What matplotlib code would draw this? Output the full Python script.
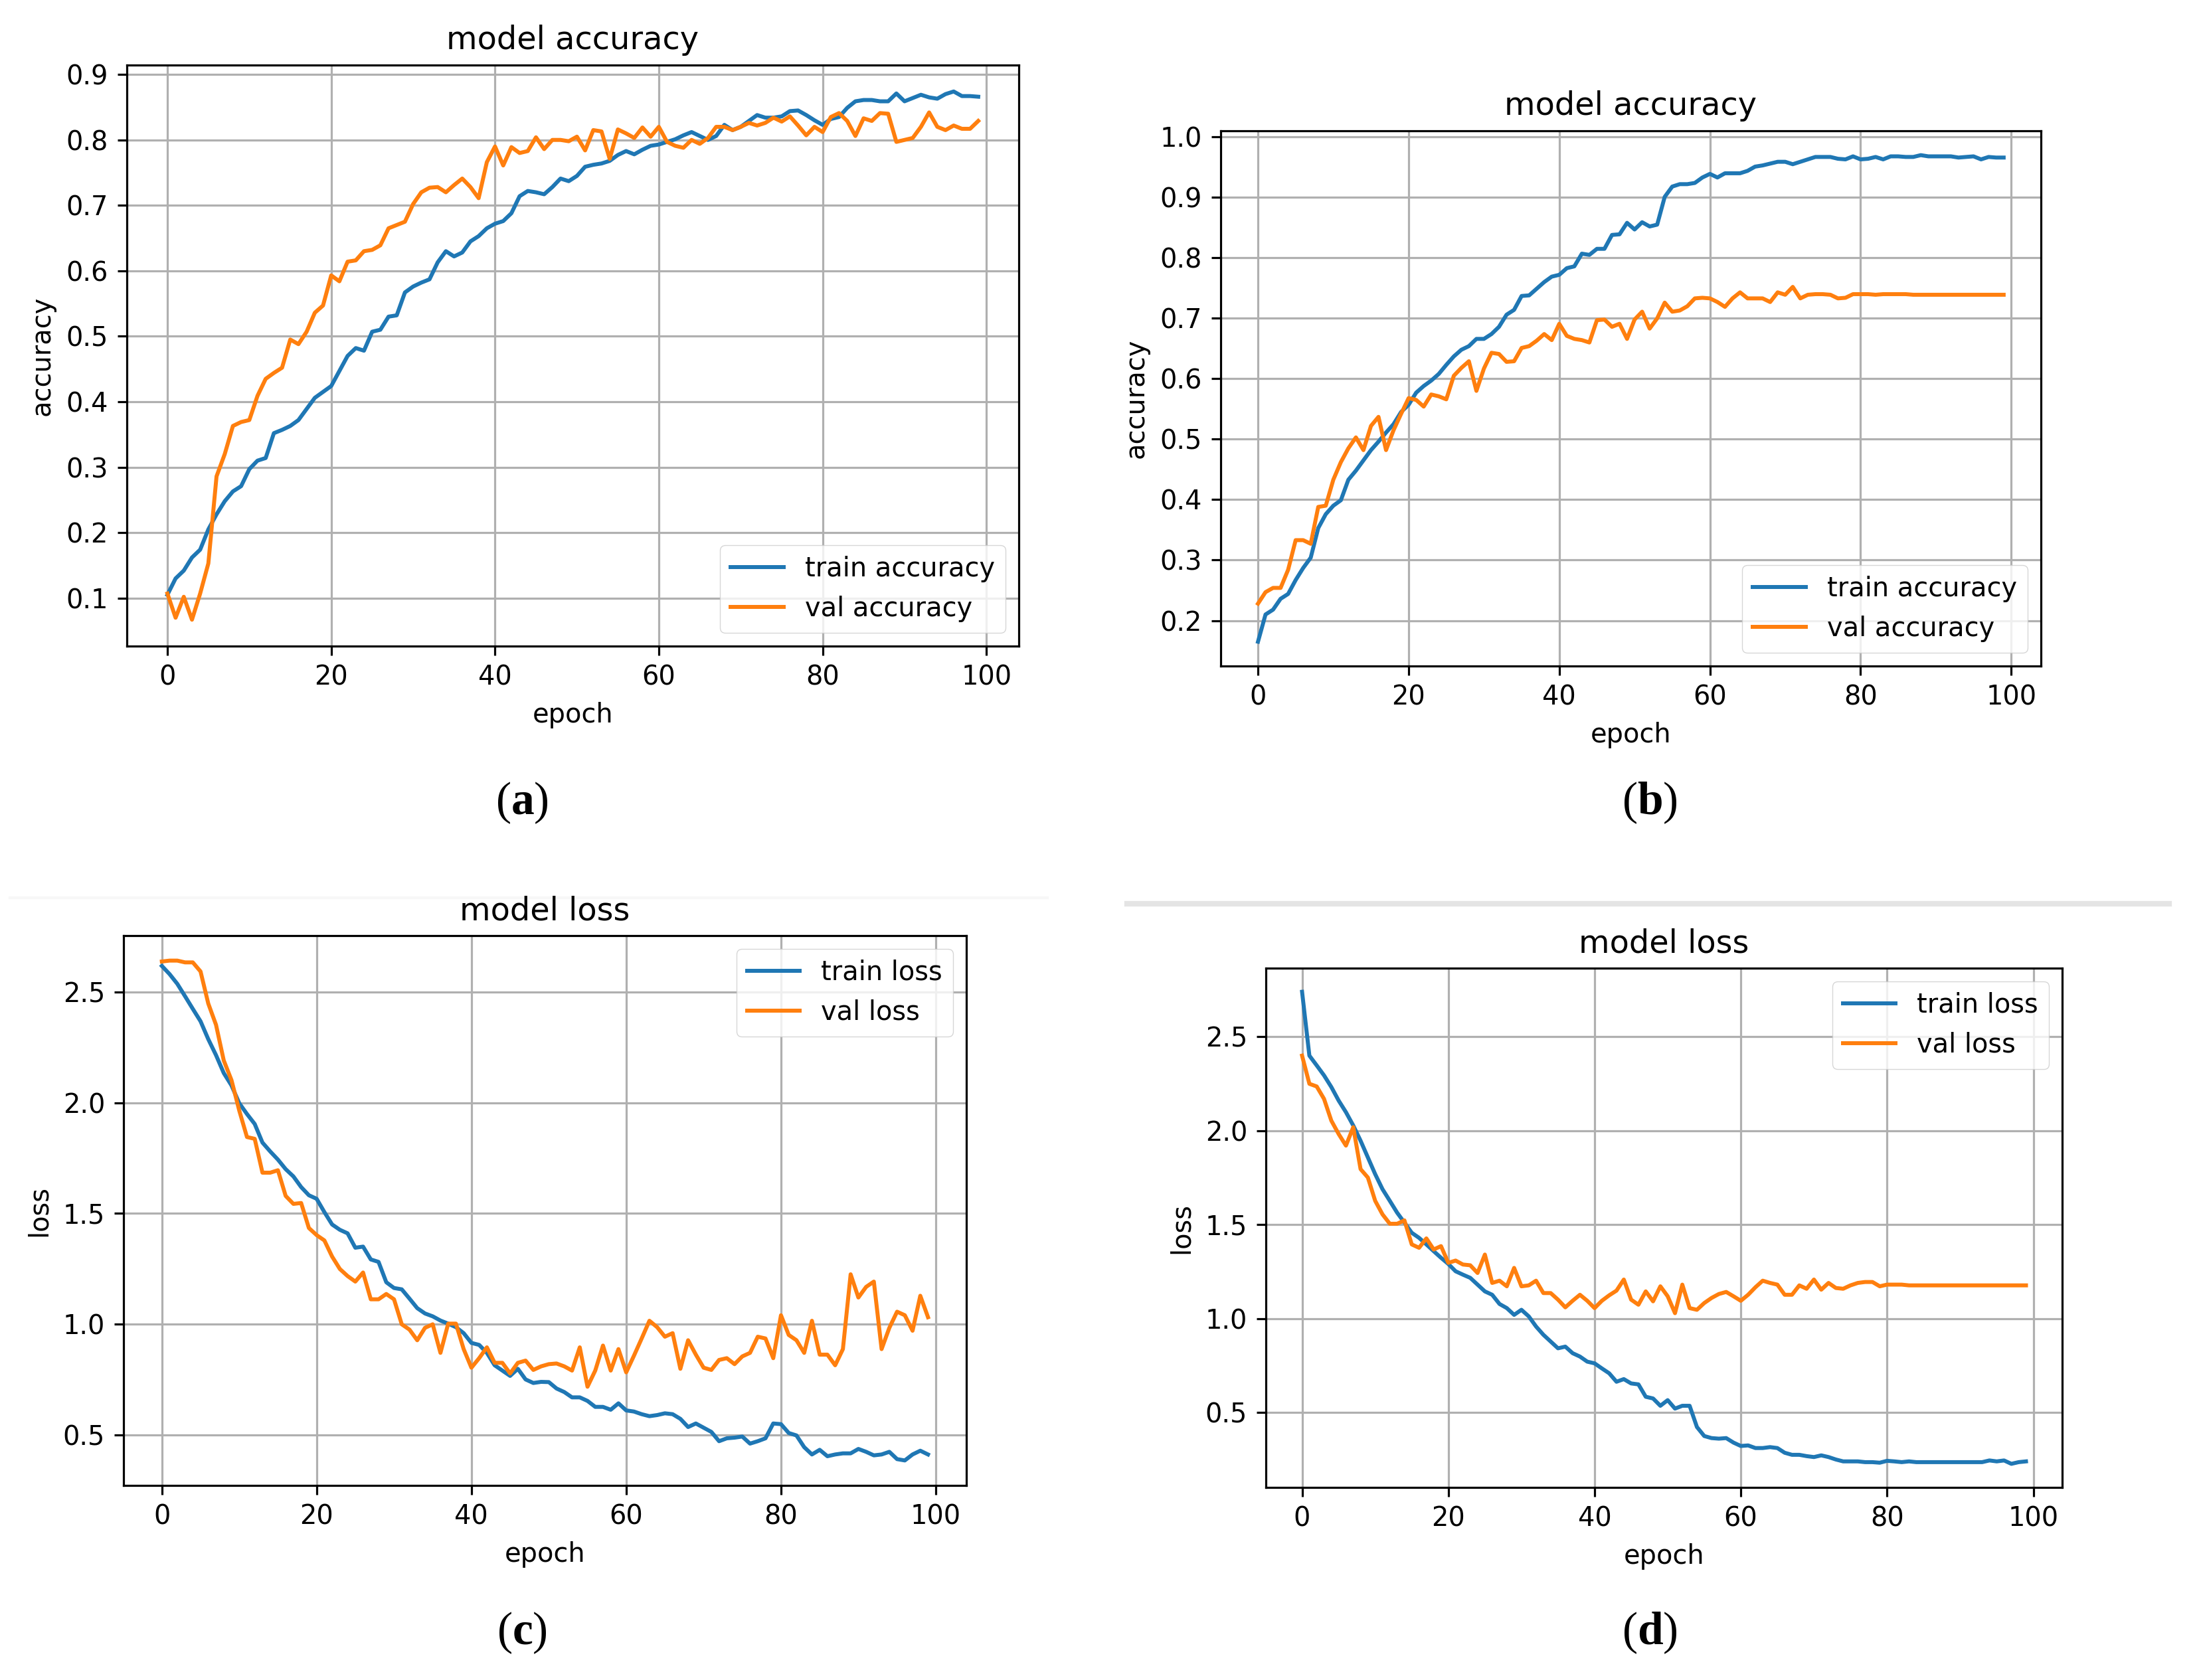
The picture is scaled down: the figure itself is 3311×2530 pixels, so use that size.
import matplotlib
matplotlib.use("Agg")
import matplotlib.pyplot as plt
from matplotlib.ticker import MultipleLocator
from matplotlib.lines import Line2D

# ---------------- data ----------------
epochs = list(range(100))

a_train = [0.105, 0.130, 0.142, 0.162, 0.174, 0.205, 0.228, 0.248, 0.263, 0.271,
           0.297, 0.310, 0.314, 0.352, 0.357, 0.363, 0.372, 0.389, 0.406, 0.415,
           0.424, 0.447, 0.470, 0.482, 0.478, 0.507, 0.510, 0.530, 0.532, 0.567,
           0.576, 0.582, 0.587, 0.613, 0.630, 0.622, 0.628, 0.645, 0.653, 0.665,
           0.672, 0.676, 0.688, 0.714, 0.722, 0.720, 0.717, 0.728, 0.741, 0.737,
           0.745, 0.759, 0.762, 0.764, 0.768, 0.777, 0.783, 0.778, 0.785, 0.791,
           0.793, 0.797, 0.801, 0.807, 0.812, 0.806, 0.800, 0.806, 0.823, 0.815,
           0.820, 0.829, 0.838, 0.834, 0.834, 0.836, 0.844, 0.845, 0.838, 0.830,
           0.823, 0.832, 0.835, 0.849, 0.859, 0.861, 0.861, 0.859, 0.859, 0.871,
           0.859, 0.864, 0.869, 0.865, 0.863, 0.870, 0.874, 0.867, 0.867, 0.866]
a_val = [0.107, 0.070, 0.102, 0.067, 0.107, 0.153, 0.286, 0.320, 0.363, 0.369,
         0.372, 0.409, 0.435, 0.444, 0.452, 0.495, 0.488, 0.507, 0.536, 0.547,
         0.593, 0.584, 0.614, 0.616, 0.630, 0.632, 0.639, 0.665, 0.670, 0.675,
         0.702, 0.720, 0.727, 0.728, 0.720, 0.731, 0.741, 0.728, 0.711, 0.766,
         0.790, 0.761, 0.789, 0.780, 0.783, 0.804, 0.786, 0.800, 0.800, 0.798,
         0.805, 0.784, 0.815, 0.813, 0.771, 0.816, 0.810, 0.803, 0.819, 0.805,
         0.820, 0.797, 0.791, 0.788, 0.800, 0.794, 0.803, 0.820, 0.820, 0.815,
         0.820, 0.826, 0.822, 0.826, 0.834, 0.828, 0.836, 0.822, 0.807, 0.820,
         0.812, 0.835, 0.841, 0.829, 0.806, 0.833, 0.829, 0.841, 0.840, 0.797,
         0.800, 0.803, 0.820, 0.842, 0.820, 0.815, 0.822, 0.817, 0.817, 0.829]

b_train = [0.165, 0.210, 0.218, 0.236, 0.244, 0.267, 0.287, 0.304, 0.353, 0.376,
           0.390, 0.399, 0.433, 0.448, 0.465, 0.482, 0.496, 0.511, 0.525, 0.545,
           0.557, 0.577, 0.588, 0.597, 0.608, 0.623, 0.637, 0.648, 0.654, 0.666,
           0.666, 0.674, 0.686, 0.706, 0.714, 0.737, 0.738, 0.749, 0.760, 0.769,
           0.772, 0.783, 0.786, 0.807, 0.805, 0.815, 0.815, 0.838, 0.839, 0.858,
           0.847, 0.859, 0.852, 0.855, 0.901, 0.918, 0.922, 0.922, 0.924, 0.933,
           0.939, 0.933, 0.940, 0.940, 0.940, 0.944, 0.951, 0.953, 0.956, 0.959,
           0.959, 0.955, 0.959, 0.963, 0.967, 0.967, 0.967, 0.964, 0.963, 0.968,
           0.963, 0.964, 0.967, 0.963, 0.968, 0.968, 0.967, 0.967, 0.970, 0.968,
           0.968, 0.968, 0.968, 0.966, 0.967, 0.968, 0.963, 0.967, 0.966, 0.966]
b_val = [0.228, 0.247, 0.254, 0.254, 0.284, 0.333, 0.333, 0.327, 0.388, 0.390,
         0.433, 0.462, 0.485, 0.503, 0.482, 0.522, 0.537, 0.482, 0.515, 0.542,
         0.568, 0.565, 0.554, 0.574, 0.571, 0.566, 0.605, 0.618, 0.629, 0.580,
         0.617, 0.643, 0.641, 0.628, 0.629, 0.651, 0.654, 0.663, 0.674, 0.664,
         0.691, 0.671, 0.666, 0.664, 0.660, 0.697, 0.698, 0.686, 0.691, 0.666,
         0.698, 0.711, 0.683, 0.700, 0.726, 0.711, 0.713, 0.720, 0.733, 0.734,
         0.733, 0.727, 0.719, 0.733, 0.743, 0.733, 0.733, 0.733, 0.727, 0.743,
         0.739, 0.752, 0.733, 0.739, 0.740, 0.740, 0.739, 0.733, 0.734, 0.740,
         0.740, 0.740, 0.739, 0.740, 0.740, 0.740, 0.740, 0.739, 0.739, 0.739,
         0.739, 0.739, 0.739, 0.739, 0.739, 0.739, 0.739, 0.739, 0.739, 0.739]

c_train = [2.618, 2.581, 2.537, 2.481, 2.424, 2.368, 2.287, 2.215, 2.134, 2.078,
           1.998, 1.949, 1.904, 1.820, 1.780, 1.743, 1.700, 1.667, 1.619, 1.582,
           1.566, 1.506, 1.450, 1.426, 1.410, 1.345, 1.350, 1.292, 1.281, 1.189,
           1.163, 1.157, 1.115, 1.072, 1.048, 1.035, 1.016, 1.002, 0.986, 0.959,
           0.915, 0.906, 0.870, 0.814, 0.790, 0.766, 0.798, 0.750, 0.734, 0.739,
           0.738, 0.709, 0.693, 0.669, 0.669, 0.653, 0.626, 0.626, 0.613, 0.642,
           0.610, 0.605, 0.593, 0.584, 0.589, 0.597, 0.593, 0.572, 0.535, 0.551,
           0.532, 0.513, 0.471, 0.484, 0.487, 0.492, 0.460, 0.471, 0.484, 0.551,
           0.548, 0.508, 0.497, 0.444, 0.411, 0.432, 0.403, 0.411, 0.416, 0.416,
           0.436, 0.423, 0.407, 0.411, 0.423, 0.390, 0.384, 0.411, 0.428, 0.411]
c_val = [2.638, 2.642, 2.642, 2.634, 2.634, 2.593, 2.448, 2.352, 2.191, 2.102,
         1.965, 1.845, 1.837, 1.684, 1.684, 1.695, 1.579, 1.543, 1.547, 1.434,
         1.402, 1.378, 1.305, 1.249, 1.217, 1.192, 1.233, 1.112, 1.112, 1.136,
         1.112, 0.999, 0.975, 0.927, 0.983, 0.999, 0.870, 1.002, 1.002, 0.887,
         0.803, 0.846, 0.895, 0.825, 0.825, 0.777, 0.825, 0.835, 0.793, 0.809,
         0.819, 0.822, 0.809, 0.790, 0.895, 0.717, 0.790, 0.903, 0.790, 0.887,
         0.782, 0.857, 0.935, 1.015, 0.986, 0.943, 0.959, 0.798, 0.927, 0.862,
         0.803, 0.793, 0.838, 0.846, 0.819, 0.854, 0.870, 0.943, 0.935, 0.846,
         1.040, 0.951, 0.927, 0.870, 1.015, 0.862, 0.862, 0.814, 0.887, 1.225,
         1.120, 1.168, 1.192, 0.887, 0.983, 1.056, 1.040, 0.970, 1.128, 1.031]

d_train = [2.740, 2.400, 2.348, 2.295, 2.233, 2.161, 2.099, 2.028, 1.947, 1.858,
           1.769, 1.689, 1.627, 1.564, 1.511, 1.457, 1.430, 1.395, 1.359, 1.324,
           1.291, 1.252, 1.234, 1.217, 1.181, 1.145, 1.127, 1.078, 1.056, 1.020,
           1.047, 1.012, 0.958, 0.914, 0.878, 0.842, 0.851, 0.816, 0.798, 0.771,
           0.762, 0.735, 0.709, 0.664, 0.678, 0.655, 0.650, 0.584, 0.575, 0.536,
           0.566, 0.521, 0.536, 0.536, 0.423, 0.375, 0.364, 0.361, 0.364, 0.340,
           0.322, 0.325, 0.311, 0.311, 0.316, 0.311, 0.286, 0.275, 0.275, 0.268,
           0.263, 0.272, 0.263, 0.250, 0.240, 0.240, 0.240, 0.236, 0.236, 0.233,
           0.243, 0.240, 0.236, 0.240, 0.236, 0.236, 0.236, 0.236, 0.236, 0.236,
           0.236, 0.236, 0.236, 0.236, 0.245, 0.240, 0.245, 0.227, 0.236, 0.240]
d_val = [2.400, 2.250, 2.236, 2.170, 2.054, 1.983, 1.921, 2.019, 1.796, 1.751,
         1.627, 1.555, 1.505, 1.505, 1.523, 1.395, 1.377, 1.427, 1.368, 1.386,
         1.297, 1.309, 1.288, 1.284, 1.243, 1.341, 1.190, 1.202, 1.172, 1.270,
         1.172, 1.177, 1.202, 1.136, 1.136, 1.101, 1.060, 1.095, 1.127, 1.095,
         1.056, 1.095, 1.124, 1.149, 1.208, 1.101, 1.074, 1.145, 1.092, 1.172,
         1.119, 1.029, 1.181, 1.056, 1.047, 1.083, 1.110, 1.131, 1.142, 1.119,
         1.095, 1.127, 1.167, 1.202, 1.190, 1.181, 1.127, 1.127, 1.177, 1.159,
         1.208, 1.154, 1.190, 1.163, 1.159, 1.177, 1.190, 1.195, 1.195, 1.172,
         1.181, 1.181, 1.181, 1.177, 1.177, 1.177, 1.177, 1.177, 1.177, 1.177,
         1.177, 1.177, 1.177, 1.177, 1.177, 1.177, 1.177, 1.177, 1.177, 1.177]

titles = ["model accuracy", "model accuracy", "model loss", "model loss"]
ylabels = ["accuracy", "accuracy", "loss", "loss"]
legend_labels = [["train accuracy", "val accuracy"], ["train accuracy", "val accuracy"],
                 ["train loss", "val loss"], ["train loss", "val loss"]]
captions = ["a", "b", "c", "d"]

# ---------------- style ----------------
S = 2.87
plt.rcParams.update({
    "font.family": ["DejaVu Sans"],
    "font.size": 10 * S,
    "lines.linewidth": 4.3,
    "axes.linewidth": 0.8 * S,
    "grid.linewidth": 0.8 * S,
    "grid.color": "#b0b0b0",
    "xtick.major.size": 3.5 * S,
    "ytick.major.size": 3.5 * S,
    "xtick.major.width": 0.8 * S,
    "ytick.major.width": 0.8 * S,
    "xtick.major.pad": 3.5 * S,
    "ytick.major.pad": 3.5 * S,
    "axes.labelpad": 4.0 * S,
    "axes.titlepad": 6.0 * S,
    "legend.fontsize": 10 * S,
    "mathtext.fontset": "custom",
    "mathtext.rm": "Liberation Serif",
    "mathtext.bf": "Liberation Serif:bold",
})

W, H = 3311, 2530
fig = plt.figure(figsize=(W / 100, H / 100), dpi=100)

# faint separator lines (drawn beneath everything)
fig.add_artist(Line2D([1697 / W, 3266 / W], [1 - 1361 / H, 1 - 1361 / H],
                      transform=fig.transFigure, color="#e4e4e4", linewidth=6, zorder=-5))
fig.add_artist(Line2D([15 / W, 1577 / W], [1 - 1352 / H, 1 - 1352 / H],
                      transform=fig.transFigure, color="#f7f7f7", linewidth=3, zorder=-5))

# axes boxes in pixels: left, right, top, bottom
boxes = [(191, 1534, 98, 973),
         (1838, 3073, 197, 1003),
         (186, 1455, 1409, 2237),
         (1906, 3105, 1458, 2240)]
series = [(a_train, a_val), (b_train, b_val), (c_train, c_val), (d_train, d_val)]
legend_locs = ["lower right", "lower right", "upper right", "upper right"]
y_steps = [0.1, 0.1, 0.5, 0.5]
caption_pos = [(786, 1226), (2484, 1226), (786, 2476), (2484, 2476)]

for i in range(4):
    l, r, t, b = boxes[i]
    ax = fig.add_axes([l / W, 1 - b / H, (r - l) / W, (b - t) / H])
    ax.patch.set_alpha(0.0)
    tr, va = series[i]
    ax.plot(epochs, tr, color="#1f77b4", label=legend_labels[i][0])
    ax.plot(epochs, va, color="#ff7f0e", label=legend_labels[i][1])
    ax.set_title(titles[i])
    ax.set_ylabel(ylabels[i])
    ax.set_xlabel("epoch")
    ax.xaxis.set_major_locator(MultipleLocator(20))
    ax.yaxis.set_major_locator(MultipleLocator(y_steps[i]))
    ax.grid(True)
    ax.legend(loc=legend_locs[i])
    cx, cy = caption_pos[i]
    fig.text(cx / W, 1 - cy / H, r"$\mathrm{(}\mathbf{%s}\mathrm{)}$" % captions[i],
             ha="center", va="baseline", fontsize=50)

fig.savefig("out.png", dpi=100, facecolor="white")
